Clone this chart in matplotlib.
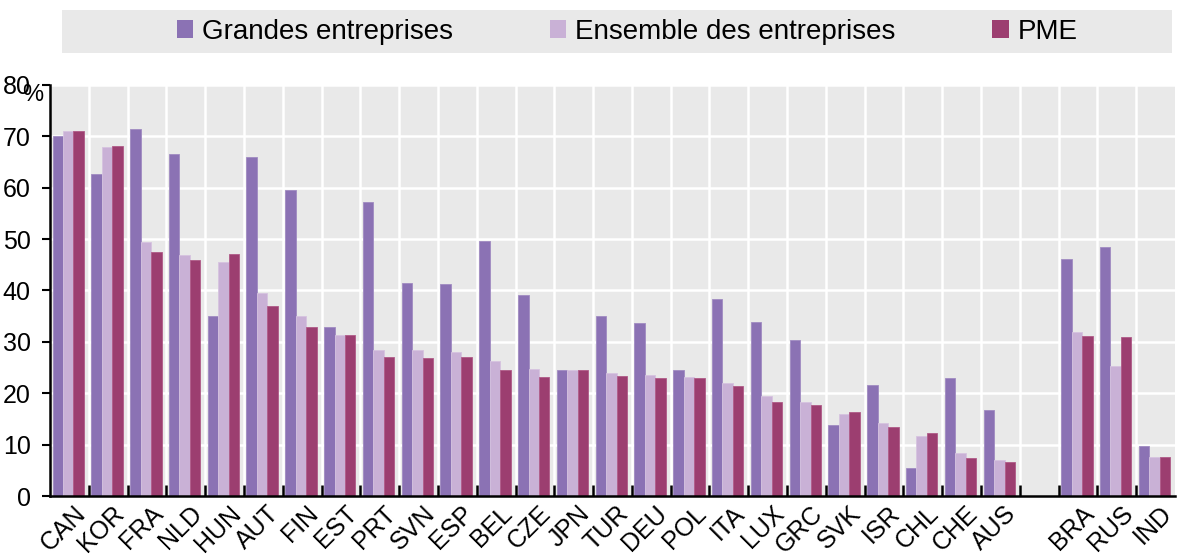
import matplotlib
matplotlib.use("Agg")
import matplotlib.pyplot as plt
import numpy as np
from matplotlib.patches import Rectangle, Patch

countries = ["CAN", "KOR", "FRA", "NLD", "HUN", "AUT", "FIN", "EST", "PRT", "SVN",
             "ESP", "BEL", "CZE", "JPN", "TUR", "DEU", "POL", "ITA", "LUX", "GRC",
             "SVK", "ISR", "CHL", "CHE", "AUS", "", "BRA", "RUS", "IND"]
grandes = [70.0, 62.7, 71.4, 66.5, 35.0, 66.0, 59.6, 32.8, 57.3, 41.4,
           41.2, 49.6, 39.2, 24.5, 35.1, 33.6, 24.5, 38.4, 33.9, 30.4,
           13.9, 21.7, 5.4, 22.9, 16.7, np.nan, 46.2, 48.5, 9.8]
ensemble = [71.0, 68.0, 49.5, 47.0, 45.6, 39.6, 35.0, 31.3, 28.5, 28.4,
            28.1, 26.3, 24.8, 24.5, 24.0, 23.6, 23.1, 22.0, 19.5, 18.2,
            16.0, 14.2, 11.6, 8.3, 7.1, np.nan, 32.0, 25.4, 7.6]
pme = [71.0, 68.2, 47.5, 46.0, 47.2, 37.0, 32.8, 31.4, 27.0, 26.8,
       27.0, 24.6, 23.1, 24.5, 23.4, 22.9, 22.9, 21.4, 18.3, 17.7,
       16.4, 13.4, 12.2, 7.4, 6.7, np.nan, 31.2, 31.0, 7.5]
series_names = ["Grandes entreprises", "Ensemble des entreprises", "PME"]
colors = ["#8b72b4", "#c9b1d6", "#9c3e70"]
edgecolors = ["#a08bc2", "#d6c3e0", "#b05a88"]
yticks = [0, 10, 20, 30, 40, 50, 60, 70, 80]

plt.rcParams["font.family"] = ["Liberation Sans", "DejaVu Sans"]

fig = plt.figure(figsize=(11.84, 5.58), dpi=100)
ax = fig.add_axes([50 / 1184, 62 / 558, 1125 / 1184, 411 / 558])
ax.set_facecolor("#e9e9e9")

x = np.arange(len(countries))
w = 0.27
for i, (vals, c, ec) in enumerate(zip([grandes, ensemble, pme], colors, edgecolors)):
    ax.bar(x + (i - 1) * w - 0.03, vals, width=w, color=c, edgecolor=ec,
           linewidth=0.6, zorder=3, label=series_names[i])

ax.set_xlim(-0.5, len(countries) - 0.5)
ax.set_ylim(0, 80)
ax.set_yticks(yticks)
ax.set_yticklabels([str(v) for v in yticks], fontsize=18)

# grid
for yv in yticks[1:]:
    ax.axhline(yv, color="white", lw=1.8, zorder=1)
bounds = np.arange(0.5, len(countries) - 0.5, 1.0)
for b in bounds:
    ax.axvline(b, color="white", lw=1.8, zorder=1)

ax.set_xticks(x + 0.1)
ax.set_xticklabels(countries, rotation=45, ha="right", va="top",
                   rotation_mode="anchor", fontsize=18)
ax.tick_params(axis="x", length=0, pad=4)
ax.set_xticks(bounds, minor=True)
ax.tick_params(axis="x", which="minor", direction="in", length=8, width=1.8, color="black")
ax.tick_params(axis="y", direction="out", length=6, width=1.5, pad=8)

for s in ["top", "right"]:
    ax.spines[s].set_visible(False)
ax.spines["left"].set_linewidth(1.8)
ax.spines["bottom"].set_linewidth(1.8)
ax.spines["bottom"].set_zorder(5)

fig.text(22 / 1184, 1 - 95 / 558, "%", fontsize=17, va="center", ha="left")

# legend background
fig.patches.append(Rectangle((62 / 1184, 1 - 53 / 558), 1110 / 1184, 43 / 558,
                             transform=fig.transFigure, facecolor="#e9e9e9",
                             edgecolor="none", zorder=0))
handles = [Patch(facecolor=c, edgecolor="none") for c in colors]
fig.legend(handles, series_names, loc="center", bbox_to_anchor=(627 / 1184, 1 - 32 / 558),
           ncol=3, frameon=False, fontsize=20, handlelength=0.6, handleheight=0.6,
           handletextpad=0.3, columnspacing=3.5, borderpad=0)

fig.savefig("out.png", dpi=100)
